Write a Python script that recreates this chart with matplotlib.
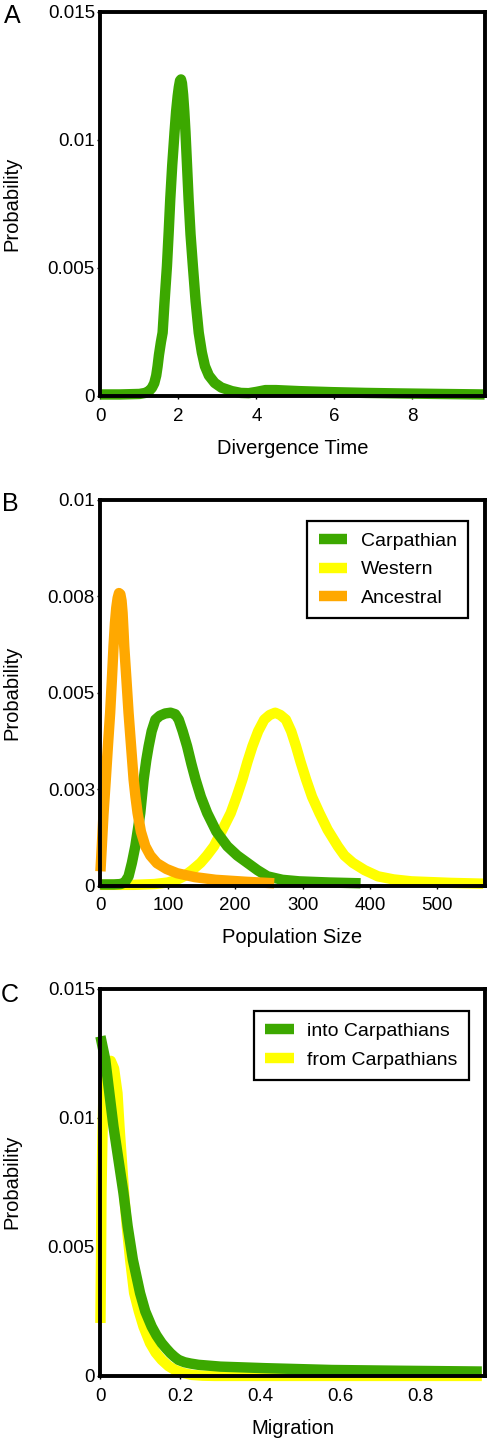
import matplotlib
matplotlib.use("Agg")
import matplotlib.pyplot as plt

plt.rcParams["font.family"] = ["Liberation Sans", "DejaVu Sans"]

GREEN = "#3ca800"
YELLOW = "#ffff00"
ORANGE = "#ffa800"

# ---- A: divergence time ----
div_x = [0, 0.5, 1.0, 1.15, 1.25, 1.32, 1.38, 1.43, 1.465, 1.50, 1.55, 1.594, 1.64,
         1.705, 1.75, 1.79, 1.84, 1.90, 1.94, 1.98, 2.01, 2.04, 2.065, 2.09, 2.12, 2.15,
         2.18, 2.22, 2.26, 2.31, 2.37, 2.44, 2.52, 2.60, 2.68, 2.78, 2.93, 3.1, 3.37,
         3.6, 3.8, 4.0, 4.23, 4.5, 5.09, 5.94, 6.8, 7.66, 8.7, 9.85]
div_y = [0.06, 0.06, 0.08, 0.12, 0.2, 0.32, 0.5, 0.8, 1.16, 1.6, 2.1, 2.47, 3.6,
         5.07, 6.4, 7.68, 9.0, 10.3, 11.1, 11.7, 12.05, 12.3, 12.35, 12.2, 11.75, 11.1,
         10.3, 9.0, 7.68, 6.3, 5.07, 3.7, 2.47, 1.7, 1.16, 0.8, 0.51, 0.33, 0.19,
         0.12, 0.11, 0.16, 0.23, 0.23, 0.19, 0.15, 0.12, 0.10, 0.08, 0.06]

# ---- B: population size ----
carp_x = [0, 20, 30, 36, 41.7, 46.7, 51.7, 55.5, 59.1, 64.1, 68, 71.5, 76, 81.5, 88, 96,
          104, 111, 116.2, 122, 128.6, 135, 141.1, 149, 158.4, 172, 188.2, 203, 218,
          233, 247.8, 270, 295, 340, 386]
carp_y = [0.03, 0.03, 0.04, 0.08, 0.24, 0.59, 1.02, 1.45, 1.88, 2.75, 3.25, 3.61, 4.0,
          4.30, 4.40, 4.46, 4.48, 4.44, 4.30, 4.0, 3.61, 3.15, 2.75, 2.3, 1.88, 1.4,
          1.02, 0.78, 0.59, 0.4, 0.24, 0.15, 0.11, 0.08, 0.06]

west_x = [0, 50, 80, 100, 112, 123.7, 136, 148.6, 158, 168.4, 181, 193.3, 202, 210.6,
          218, 225.5, 234, 243, 251, 259.3, 267, 275.2, 283, 290.2, 297, 305.1, 314,
          324.9, 337, 352.2, 362, 374.5, 392, 411.8, 435, 461.5, 520, 568]
west_y = [0.02, 0.02, 0.04, 0.08, 0.14, 0.24, 0.4, 0.59, 0.78, 1.02, 1.45, 1.88, 2.3,
          2.75, 3.2, 3.61, 4.0, 4.30, 4.42, 4.48, 4.42, 4.30, 4.0, 3.61, 3.2, 2.75,
          2.3, 1.88, 1.45, 1.02, 0.78, 0.59, 0.4, 0.24, 0.16, 0.11, 0.07, 0.05]

anc_x = [0, 2, 4.5, 7.9, 11, 14.4, 17, 19.4, 21.5, 23.5, 25.5, 27.5, 29.5, 31.3, 32.8,
         34.2, 35.3, 38.5, 41.7, 45.5, 49.2, 52, 55.1, 60, 66.6, 74, 83.9, 98, 113.8,
         140, 171, 215, 257.8]
anc_y = [0.37, 1.02, 1.85, 2.75, 3.6, 4.48, 5.35, 6.2, 6.8, 7.2, 7.45, 7.58, 7.55, 7.38,
         7.07, 6.6, 6.2, 5.35, 4.48, 3.6, 2.75, 2.3, 1.88, 1.4, 1.02, 0.78, 0.58, 0.43,
         0.32, 0.22, 0.15, 0.1, 0.06]

# ---- C: migration ----
into_x = [0, 0.012, 0.0325, 0.045, 0.0575, 0.068, 0.081, 0.099, 0.112, 0.128, 0.14,
          0.153, 0.165, 0.175, 0.185, 0.195, 0.21, 0.225, 0.245, 0.3, 0.412, 0.578,
          0.75, 0.953]
into_y = [13.15, 12.25, 9.66, 8.37, 7.08, 5.79, 4.50, 3.21, 2.5, 1.91, 1.57, 1.27, 1.05,
          0.88, 0.74, 0.62, 0.53, 0.48, 0.43, 0.36, 0.30, 0.23, 0.2, 0.17]

from_x = [0, 0.0015, 0.0025, 0.005, 0.0075, 0.0115, 0.0158, 0.0258, 0.034, 0.0425,
          0.0475, 0.0533, 0.059, 0.0658, 0.0742, 0.0842, 0.096, 0.1075, 0.124, 0.138,
          0.153, 0.17, 0.186, 0.205, 0.228, 0.255, 0.285, 0.412, 0.953]
from_y = [2.05, 4.6, 7.08, 9.3, 10.95, 11.8, 12.1, 12.2, 11.9, 10.95, 9.66, 8.37, 7.08,
          5.79, 4.50, 3.21, 2.5, 1.91, 1.27, 0.9, 0.62, 0.38, 0.23, 0.12, 0.04, 0.01,
          0.0, 0.0, 0.0]


def style_axes(ax):
    for sp in ax.spines.values():
        sp.set_linewidth(2.8)
        sp.set_color("black")
    ax.tick_params(direction="out", length=2.5, width=1, labelsize=13.5)
    ax.tick_params(axis="x", pad=6)
    ax.tick_params(axis="y", pad=1.5)
    ax.set_ylabel("Probability", fontsize=14.5)
    ax.yaxis.set_label_coords(-0.205, 0.5)


def to_prob(vals):
    return [v / 1000 for v in vals]


def draw(ax, xs, ys, color, label=None):
    ax.plot(xs, to_prob(ys), color=color, lw=7.5, label=label,
            solid_joinstyle="round", solid_capstyle="butt", clip_on=False)


def add_legend(ax, handles, labels, anchor):
    leg = ax.legend(handles, labels, loc="upper right", bbox_to_anchor=anchor,
                    fontsize=14, fancybox=False, edgecolor="black",
                    handlelength=1.45, handletextpad=0.7, borderpad=0.6,
                    labelspacing=0.55, framealpha=1, borderaxespad=0)
    leg.get_frame().set_linewidth(1.6)


fig = plt.figure(figsize=(4.9, 14.4), dpi=100)

# panel A
ax1 = fig.add_axes([0.205, 0.725, 0.784, 0.267])
draw(ax1, div_x, div_y, GREEN)
ax1.set_xlim(0, 9.85)
ax1.set_ylim(0, 0.015)
ax1.set_xticks([0, 2, 4, 6, 8])
ax1.set_yticks([0, 0.005, 0.01, 0.015])
ax1.set_yticklabels(["0", "0.005", "0.01", "0.015"])
ax1.set_xlabel("Divergence Time", fontsize=14.5, labelpad=10)
style_axes(ax1)
fig.text(0.0245, 0.9889, "A", fontsize=18, va="center", ha="center")

# panel B
ax2 = fig.add_axes([0.205, 0.385, 0.784, 0.268])
draw(ax2, west_x, west_y, YELLOW, "Western")
draw(ax2, carp_x, carp_y, GREEN, "Carpathian")
draw(ax2, anc_x, anc_y, ORANGE, "Ancestral")
ax2.set_xlim(0, 570)
ax2.set_ylim(0, 0.01)
ax2.set_xticks([0, 100, 200, 300, 400, 500])
ax2.set_yticks([0, 0.0025, 0.005, 0.0075, 0.01])
ax2.set_yticklabels(["0", "0.003", "0.005", "0.008", "0.01"])
ax2.set_xlabel("Population Size", fontsize=14.5, labelpad=10)
style_axes(ax2)
h, l = ax2.get_legend_handles_labels()
add_legend(ax2, [h[1], h[0], h[2]], [l[1], l[0], l[2]], (0.958, 0.945))
fig.text(0.0204, 0.650, "B", fontsize=18, va="center", ha="center")

# panel C
ax3 = fig.add_axes([0.205, 0.0445, 0.784, 0.269])
draw(ax3, from_x, from_y, YELLOW, "from Carpathians")
draw(ax3, into_x, into_y, GREEN, "into Carpathians")
ax3.set_xlim(0, 0.96)
ax3.set_ylim(0, 0.015)
ax3.set_xticks([0, 0.2, 0.4, 0.6, 0.8])
ax3.set_xticklabels(["0", "0.2", "0.4", "0.6", "0.8"])
ax3.set_yticks([0, 0.005, 0.01, 0.015])
ax3.set_yticklabels(["0", "0.005", "0.01", "0.015"])
ax3.set_xlabel("Migration", fontsize=14.5, labelpad=10)
style_axes(ax3)
h, l = ax3.get_legend_handles_labels()
add_legend(ax3, [h[1], h[0]], [l[1], l[0]], (0.96, 0.942))
fig.text(0.0204, 0.309, "C", fontsize=18, va="center", ha="center")

fig.savefig("out.png", dpi=100)
